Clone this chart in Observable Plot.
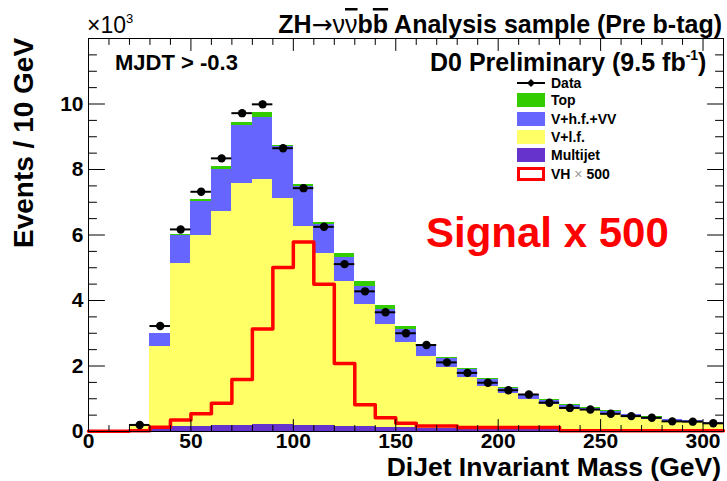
<!DOCTYPE html>
<html><head><meta charset="utf-8">
<script src="https://cdn.jsdelivr.net/npm/d3@7"></script>
<script src="https://cdn.jsdelivr.net/npm/@observablehq/plot@0.6"></script>
<style>
body{margin:0;background:#fff;}
svg{display:block;}
</style>
</head><body><div id="chart"></div>
<script>
// ---- Data (units of 10^3 events / 10 GeV) ----
const binWidth = 10;
const mcBins = [20,30,40,50,60,70,80,90,100,110,120,130,140,150,160,170,180,190,200,210,220,230,240,250,260,270,280,290,300];
const multijet = [0.02,0.10,0.15,0.16,0.17,0.18,0.20,0.20,0.18,0.17,0.15,0.14,0.12,0.11,0.10,0.09,0.08,0.07,0.06,0.05,0.05,0.04,0.04,0.03,0.03,0.03,0.02,0.02,0.02];
const vlf = [0.16,2.50,4.98,5.82,6.55,7.39,7.49,6.91,6.09,5.27,4.42,3.73,3.14,2.61,2.19,1.87,1.58,1.31,1.11,0.93,0.77,0.62,0.60,0.51,0.41,0.35,0.28,0.26,0.23];
const vhf = [0.02,0.38,0.85,1.04,1.27,1.76,1.89,1.59,1.20,0.87,0.74,0.55,0.45,0.38,0.31,0.26,0.22,0.20,0.14,0.13,0.12,0.13,0.07,0.08,0.08,0.06,0.06,0.06,0.03];
const top_ = [0.00,0.02,0.04,0.05,0.09,0.12,0.16,0.04,0.06,0.07,0.11,0.15,0.13,0.11,0.07,0.05,0.05,0.03,0.04,0.02,0.03,0.04,0.02,0.01,0.01,0.01,0.01,0.01,0.01];
const dataVals = [0.20,3.22,6.17,7.32,8.34,9.72,9.99,8.65,7.43,6.25,5.11,4.28,3.64,3.00,2.64,2.11,1.79,1.49,1.26,1.13,0.88,0.72,0.67,0.54,0.47,0.42,0.31,0.30,0.25];
const sigBins = [0,10,20,30,40,50,60,70,80,90,100,110,120,130,140,150,160,170,180,190,200,210,220,230,240,250,260,270,280,290,300];
const signal = [0.01,0.01,0.02,0.13,0.35,0.54,0.86,1.59,3.13,5.01,5.79,4.50,2.08,0.82,0.42,0.25,0.17,0.17,0.12,0.12,0.12,0.12,0.12,0.02,0.02,0.02,0.02,0.02,0.02,0.02,0.02];
const xMajorTicks = [0,50,100,150,200,250,300];
const yMajorTicks = [0,2,4,6,8,10];
const compNames = ["Multijet","V+l.f.","V+h.f.+VV","Top"];
const compColors = ["#6633cc","#ffff66","#6666ff","#33cc00"];

// ---- Build tables ----
const compSeries = [multijet, vlf, vhf, top_];
const stackRows = [];
compSeries.forEach((vals, ci) => vals.forEach((v, i) => stackRows.push({x1: mcBins[i], x2: mcBins[i] + binWidth, comp: compNames[ci], v})));
const dataRows = mcBins.map((b, i) => ({x1: b, x2: b + binWidth, xc: b + binWidth/2, y: dataVals[i], err: Math.sqrt(dataVals[i]*1000)/1000}));
const sigRows = sigBins.map((b, i) => ({x: b, y: signal[i]}));
sigRows.push({x: sigBins[sigBins.length-1] + binWidth, y: signal[signal.length-1]});
const xMinor = d3.range(0, 311, 10).filter(v => v % 50 !== 0);
const yMinor = d3.range(0, 12.01, 0.5).filter(v => v % 2 !== 0);
const yMajorAll = d3.range(0, 12.01, 2);

const tickShape = {draw(context, l) { context.moveTo(0, 0); context.lineTo(0, -l); }};
const tk = (data, opts) => Plot.vector(data, {anchor: "start", shape: tickShape, stroke: "#000", strokeWidth: 1, ...opts});

const FONT = "'Liberation Sans', Arial, Helvetica, sans-serif";

const plot = Plot.plot({
  width: 727, height: 481,
  marginLeft: 88, marginRight: 4, marginTop: 38, marginBottom: 50,
  style: {fontFamily: FONT, background: "#fff", color: "#000"},
  x: {domain: [0, 310]},
  y: {domain: [0, 12]},
  color: {domain: compNames, range: compColors},
  marks: [
    Plot.rectY(stackRows, {x1: "x1", x2: "x2", y: "v", fill: "comp", order: compNames, shapeRendering: "crispEdges"}),
    Plot.line(sigRows, {x: "x", y: "y", curve: "step-after", stroke: "#ff0000", strokeWidth: 3.5}),
    Plot.ruleY(dataRows, {x1: "x1", x2: "x2", y: "y", stroke: "#000", strokeWidth: 2}),
    Plot.ruleX(dataRows, {x: "xc", y1: d => d.y - d.err, y2: d => d.y + d.err, stroke: "#000", strokeWidth: 2}),
    Plot.dot(dataRows, {x: "xc", y: "y", r: 4.2, fill: "#000", stroke: null}),
    Plot.frame({stroke: "#000", strokeWidth: 1}),
    // ticks (inward, all four sides)
    tk(xMajorTicks, {x: d => d, frameAnchor: "bottom", length: 12, rotate: 0}),
    tk(xMinor, {x: d => d, frameAnchor: "bottom", length: 6, rotate: 0}),
    tk(xMajorTicks, {x: d => d, frameAnchor: "top", length: 12, rotate: 180}),
    tk(xMinor, {x: d => d, frameAnchor: "top", length: 6, rotate: 180}),
    tk(yMajorAll, {y: d => d, frameAnchor: "left", length: 16, rotate: 90}),
    tk(yMinor, {y: d => d, frameAnchor: "left", length: 8, rotate: 90}),
    tk(yMajorAll, {y: d => d, frameAnchor: "right", length: 16, rotate: -90}),
    tk(yMinor, {y: d => d, frameAnchor: "right", length: 8, rotate: -90}),
    Plot.axisX({ticks: xMajorTicks, tickSize: 0, tickPadding: 2, fontSize: 21, fontWeight: "bold", label: null, tickFormat: d => String(d)}),
    Plot.axisY({ticks: yMajorTicks, tickSize: 0, tickPadding: 5, fontSize: 21, fontWeight: "bold", label: null, tickFormat: d => String(d)})
  ]
});

const svg = d3.select(plot);
svg.attr("font-family", FONT);
const T = (x, y, txt, size, weight, opts = {}) => {
  const t = svg.append("text").attr("x", x).attr("y", y).attr("font-size", size)
    .attr("font-weight", weight).attr("fill", opts.fill || "#000")
    .attr("text-anchor", opts.anchor || "start").attr("font-family", FONT);
  if (txt !== null) t.text(txt);
  return t;
};

// x10^3
const ex = T(87, 33, null, 23, "normal");
ex.append("tspan").text("×10");
ex.append("tspan").attr("font-size", 13).attr("dy", -10).text("3");

// Title
const ti = T(722, 33, null, 25, "bold", {anchor: "end"});
ti.append("tspan").text("ZH");
ti.append("tspan").attr("font-weight", "normal").attr("font-family", "'DejaVu Sans'").text("→");
ti.append("tspan").attr("font-weight", "normal").text("ν");
ti.append("tspan").attr("font-weight", "normal").style("text-decoration", "overline").text("ν");
ti.append("tspan").text("b");
ti.append("tspan").style("text-decoration", "overline").text("b");
ti.append("tspan").text(" Analysis sample (Pre b-tag)");

// MJDT
T(115, 70, "MJDT > -0.3", 22, "bold");

// D0 Preliminary
const d0 = T(430, 71, null, 25, "bold");
d0.append("tspan").text("D0 Preliminary (9.5 fb");
d0.append("tspan").attr("font-size", 14).attr("dy", -11).text("-1");
d0.append("tspan").attr("dy", 11).text(")");

// Legend
const lx = 517, lw = 28, lh = 14, tx = 551;
const legRows = [83, 100, 119, 137, 155, 174];
// Data row
svg.append("line").attr("x1", lx).attr("x2", lx + lw).attr("y1", legRows[0]).attr("y2", legRows[0]).attr("stroke", "#000").attr("stroke-width", 2);
svg.append("path").attr("d", `M${lx+lw/2},${legRows[0]-4}L${lx+lw/2+4},${legRows[0]}L${lx+lw/2},${legRows[0]+4}L${lx+lw/2-4},${legRows[0]}Z`).attr("fill", "#000");
T(tx, legRows[0] + 5, "Data", 14, "bold");
const legOrder = ["Top", "V+h.f.+VV", "V+l.f.", "Multijet"];
legOrder.forEach((name, i) => {
  const y = legRows[i + 1];
  svg.append("rect").attr("x", lx).attr("y", y - lh/2).attr("width", lw).attr("height", lh)
    .attr("fill", compColors[compNames.indexOf(name)]);
  T(tx, y + 5, name, 14, "bold");
});
const yv = legRows[5];
svg.append("rect").attr("x", lx + 1.5).attr("y", yv - lh/2 + 1.5).attr("width", lw - 3).attr("height", lh - 3)
  .attr("fill", "#fff").attr("stroke", "#ff0000").attr("stroke-width", 3);
const vh = T(tx, yv + 5, null, 14, "bold");
vh.append("tspan").text("VH ");
vh.append("tspan").attr("font-weight", "normal").attr("fill", "#999").text("×");
vh.append("tspan").text(" 500");

// Signal x 500
T(426, 247, "Signal x 500", 42, "bold", {fill: "#ff0000"});

// Axis titles
T(721, 476, "DiJet Invariant Mass (GeV)", 26.5, "bold", {anchor: "end"});
T(0, 0, "Events / 10 GeV", 28, "bold").attr("transform", "translate(33,248) rotate(-90)");

document.getElementById("chart").appendChild(plot);
</script>
</body></html>
